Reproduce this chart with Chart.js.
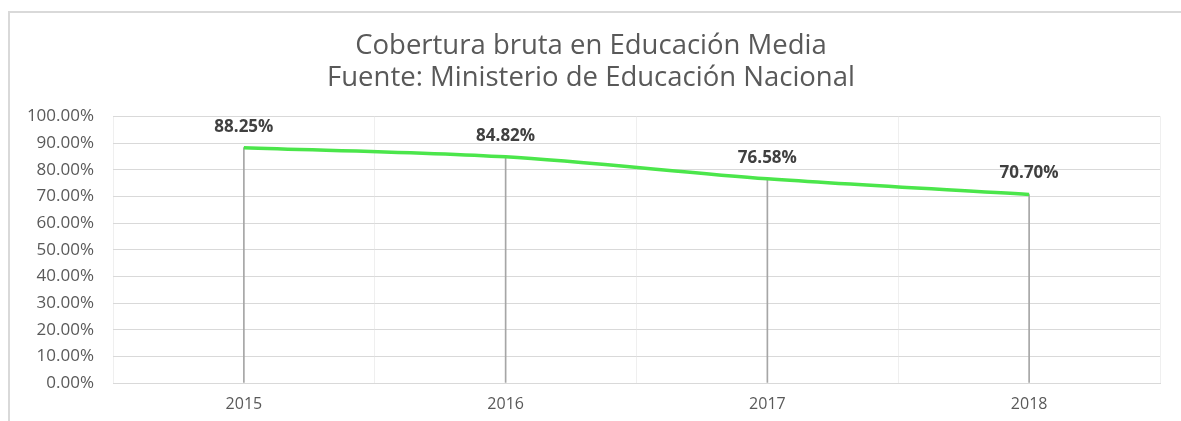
<!DOCTYPE html>
<html>
<head>
<meta charset="utf-8">
<script src="https://cdn.jsdelivr.net/npm/chart.js@4.4.0/dist/chart.umd.min.js"></script>
<style>
  body { margin: 0; background: #fff; }
  #frame { position: absolute; left: 8px; top: 11px; width: 1200px; height: 420px;
           border-top: 2px solid #d9d9d9; border-left: 2px solid #d9d9d9; }
  #wrap { position: absolute; left: 0; top: 0; width: 1181px; height: 421px; }
</style>
</head>
<body>
<div id="frame"></div>
<div id="wrap"><canvas id="mycanvas" width="1181" height="421"></canvas></div>
<script>
var years = ["2015", "2016", "2017", "2018"];
var cobertura = [88.25, 84.82, 76.58, 70.70];
var titleLines = ["Cobertura bruta en Educación Media", "Fuente: Ministerio de Educación Nacional"];

var font = "'Open Sans', 'Noto Sans', sans-serif";

// etiquetas encima de cada punto
var labelPlugin = {
	id: "labels",
	afterDatasetsDraw: function(chart) {
		var ctx = chart.ctx;
		var meta = chart.getDatasetMeta(1);
		ctx.save();
		ctx.font = "bold 17px " + font;
		ctx.fillStyle = "#404040";
		ctx.textAlign = "center";
		ctx.textBaseline = "middle";
		meta.data.forEach(function(pt, i) {
			ctx.fillText(cobertura[i].toFixed(2) + "%", pt.x, pt.y - 21);
		});
		ctx.restore();
	}
};

var ctx = document.getElementById("mycanvas");

var LineGraph = new Chart(ctx, {
	data: {
		labels: years,
		datasets: [
			{
				type: "bar",
				data: cobertura,
				backgroundColor: "#a6a6a6",
				barThickness: 1,
				order: 2
			},
			{
				type: "line",
				data: cobertura,
				borderColor: "#4be64b",
				borderWidth: 3.5,
				tension: 0.3,
				pointRadius: 0,
				fill: false,
				order: 1
			}
		]
	},
	plugins: [labelPlugin],
	options: {
		responsive: false,
		animation: false,
		layout: { padding: { left: 22, right: 21, top: 0, bottom: 0 } },
		plugins: {
			legend: { display: false },
			tooltip: { enabled: false },
			title: {
				display: true,
				text: titleLines,
				color: "#595959",
				font: { family: font, size: 27.5, weight: "normal", lineHeight: 1.17 },
				padding: { top: 30, bottom: 22 }
			}
		},
		scales: {
			x: {
				offset: true,
				grid: { color: "#efefef", offset: true, drawTicks: false },
				border: { color: "#d9d9d9" },
				ticks: { color: "#595959", font: { family: font, size: 16 }, padding: 12 },
				afterFit: function(axis) { axis.height = 38; }
			},
			y: {
				min: 0,
				max: 100,
				grid: { color: "#d9d9d9", drawTicks: false },
				border: { display: false },
				ticks: {
					stepSize: 10,
					color: "#595959",
					font: { family: font, size: 17 },
					padding: 19,
					callback: function(v) { return v.toFixed(2) + "%"; }
				},
				afterFit: function(axis) { axis.width = 91; }
			}
		}
	}
});
</script>
</body>
</html>
